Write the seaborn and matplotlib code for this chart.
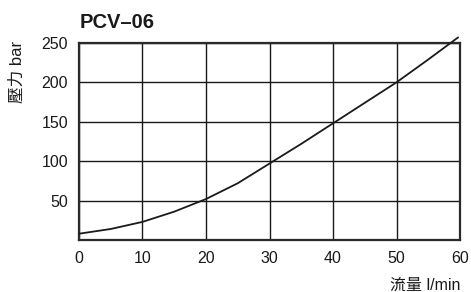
import pandas as pd
import seaborn as sns
import matplotlib.pyplot as plt

# flow (l/min) vs pressure (bar)
flow = [0, 5, 10, 15, 20, 25, 30, 35, 40, 45, 50, 55, 59.7]
pressure = [8, 14, 23, 36, 52, 72, 97, 122, 148, 174, 200, 229, 257]
x_ticks = [0, 10, 20, 30, 40, 50, 60]
y_ticks = [50, 100, 150, 200, 250]

df = pd.DataFrame({"flow": flow, "pressure": pressure})

sns.set_style("white")
plt.rcParams['font.family'] = ['Liberation Sans', 'Noto Sans CJK TC', 'DejaVu Sans']

fig = plt.figure(figsize=(4.71, 2.92), dpi=100)
ax = fig.add_axes([0.1677, 0.178, 0.809, 0.675])

sns.lineplot(data=df, x="flow", y="pressure", ax=ax, color="#1a1a1a",
             linewidth=1.3, clip_on=False, zorder=5)

ax.set_xlim(0, 60)
ax.set_ylim(0, 250)
ax.set_xticks(x_ticks)
ax.set_yticks(y_ticks)
ax.tick_params(length=0, labelsize=11.5, colors="#1a1a1a", pad=8)
ax.grid(True, color="#1a1a1a", linewidth=1.0)
for s in ax.spines.values():
    s.set_color("#2a2a2a")
    s.set_linewidth(1.6)

ax.set_xlabel("")
ax.set_ylabel("")
fig.text(0.036, 0.753, "壓力 bar", rotation=90, ha="center", va="center",
         fontsize=12, color="#1a1a1a")
fig.text(0.977, 0.024, "流量 l/min", ha="right", va="center",
         fontsize=11.5, color="#1a1a1a")
fig.text(0.168, 0.923, "PCV–06", ha="left", va="center",
         fontsize=14.5, fontweight="bold", color="#1a1a1a")

fig.savefig("out.png", dpi=100)
